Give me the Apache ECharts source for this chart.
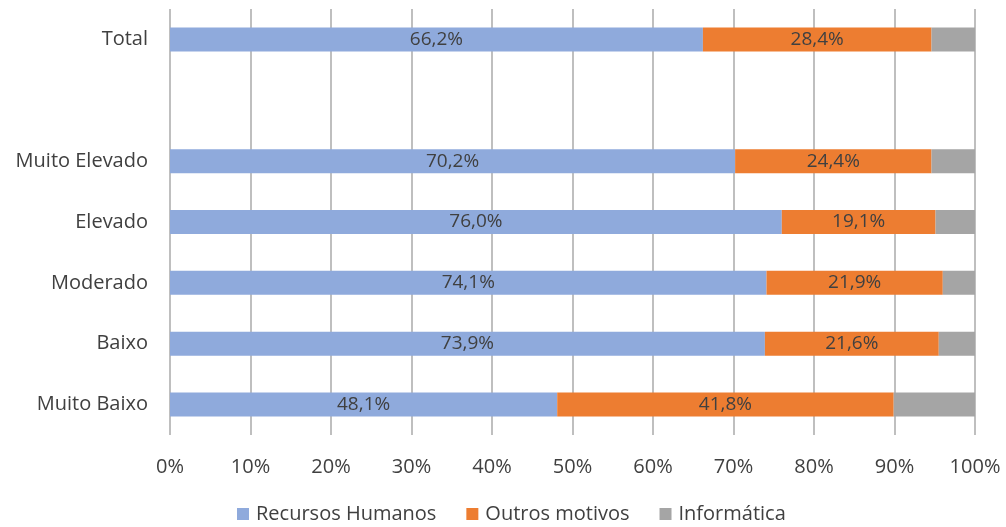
<!DOCTYPE html>
<html>
<head>
<meta charset="utf-8">
<script src="https://cdn.jsdelivr.net/npm/echarts@6/dist/echarts.min.js"></script>
<style>html,body{margin:0;padding:0;background:#fff;}#c{width:1006px;height:527px;}</style>
</head>
<body>
<div id="c"></div>
<script>
const categories = ["Muito Baixo", "Baixo", "Moderado", "Elevado", "Muito Elevado", "", "Total"];
const recursosHumanos = [48.1, 73.9, 74.1, 76.0, 70.2, null, 66.2];
const outrosMotivos = [41.8, 21.6, 21.9, 19.1, 24.4, null, 28.4];
const informatica = [10.1, 4.5, 4.0, 4.9, 5.4, null, 5.4];
const xTicks = [0, 10, 20, 30, 40, 50, 60, 70, 80, 90, 100];

const FONT = "'Open Sans', 'Noto Sans', sans-serif";
const chart = echarts.init(document.getElementById('c'), null, {renderer: 'canvas'});
const lbl = {
  show: true,
  position: 'inside',
  color: '#404040',
  fontFamily: FONT,
  fontSize: 19,
  formatter: p => p.value == null ? '' : p.value.toFixed(1).replace('.', ',') + '%'
};
chart.setOption({
  animation: false,
  textStyle: {fontFamily: FONT},
  grid: {left: 170, right: 31, top: 9, bottom: 92, containLabel: false},
  legend: {
    bottom: -2,
    left: 232,
    itemWidth: 12,
    itemHeight: 12,
    itemGap: 30,
    icon: 'rect',
    textStyle: {color: '#404040', fontSize: 20, fontFamily: FONT, padding: [0, 0, 0, 2]},
    data: ['Recursos Humanos', 'Outros motivos', 'Informática']
  },
  xAxis: {
    type: 'value',
    min: 0,
    max: 100,
    interval: 10,
    axisLine: {show: false},
    axisTick: {show: false},
    axisLabel: {color: '#404040', fontSize: 20, fontFamily: FONT, margin: 22,
      formatter: v => xTicks.includes(v) ? v + '%' : ''},
    splitLine: {show: true, lineStyle: {color: '#bfbfbf', width: 2}}
  },
  yAxis: {
    type: 'category',
    data: categories,
    axisLine: {show: false},
    axisTick: {show: false},
    axisLabel: {color: '#404040', fontSize: 20, fontFamily: FONT, margin: 22}
  },
  series: [
    {name: 'Recursos Humanos', type: 'bar', stack: 's', data: recursosHumanos, barWidth: 24,
      itemStyle: {color: '#8faadc'}, label: lbl},
    {name: 'Outros motivos', type: 'bar', stack: 's', data: outrosMotivos, barWidth: 24,
      itemStyle: {color: '#ed7d31'}, label: lbl},
    {name: 'Informática', type: 'bar', stack: 's', data: informatica, barWidth: 24,
      itemStyle: {color: '#a5a5a5'}, label: {show: false}}
  ]
});
</script>
</body>
</html>
